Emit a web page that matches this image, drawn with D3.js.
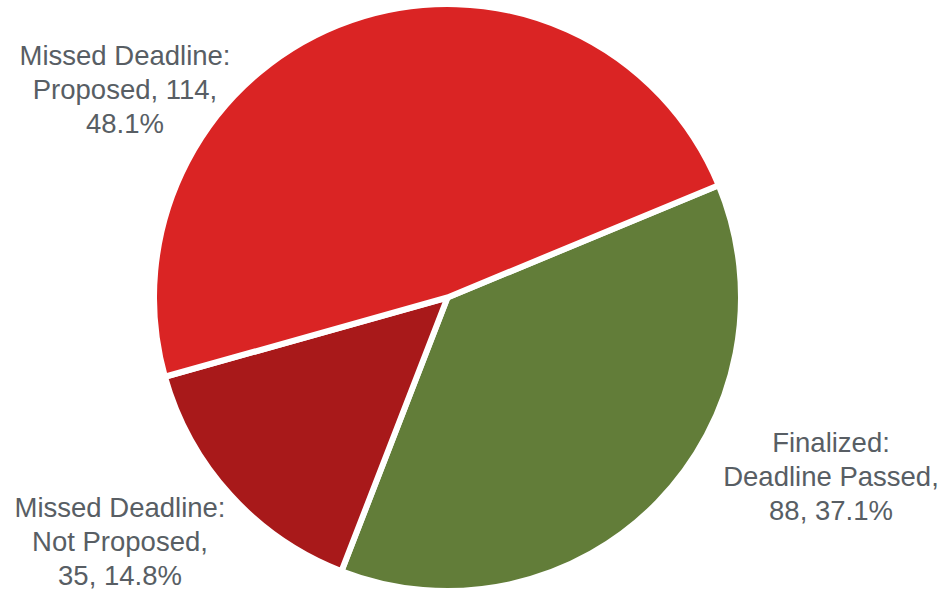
<!DOCTYPE html>
<html>
<head>
<meta charset="utf-8">
<script src="https://cdn.jsdelivr.net/npm/d3@7"></script>
<style>
  html, body { margin: 0; padding: 0; background: #ffffff; }
  svg { display: block; }
</style>
</head>
<body>
<svg id="chart" width="943" height="590"></svg>
<script>
// Rule status counts, drawn clockwise starting with the finalized slice
const categories = ["Finalized: Deadline Passed", "Missed Deadline: Not Proposed", "Missed Deadline: Proposed"];
const labelLines = [
  ["Finalized:", "Deadline Passed,"],
  ["Missed Deadline:", "Not Proposed,"],
  ["Missed Deadline:", "Proposed, 114,"]
];
const counts = [88, 35, 114];
const percents = ["37.1%", "14.8%", "48.1%"];
const colors = ["#627d39", "#a8191a", "#da2424"];

// Label anchor points (centre of first baseline), in page pixels
const labelAnchors = [[831, 452], [120, 517], [125, 65]];

const width = 943, height = 590;
const cx = 447.5, cy = 297.5, radius = 293.5;
const startDeg = 67.5;

const svg = d3.select("#chart");
const g = svg.append("g").attr("transform", `translate(${cx},${cy})`);

const pie = d3.pie()
  .value(d => d)
  .sort(null)
  .startAngle(startDeg * Math.PI / 180)
  .endAngle((startDeg + 360) * Math.PI / 180);

const arc = d3.arc().innerRadius(0).outerRadius(radius);

g.selectAll("path.slice")
  .data(pie(counts))
  .join("path")
  .attr("class", "slice")
  .attr("d", arc)
  .attr("fill", (d, i) => colors[i])
  .attr("stroke", "#ffffff")
  .attr("stroke-width", 6)
  .attr("stroke-linejoin", "miter");

// Data labels: category name, count and share
const lineHeight = 34;
const labels = svg.selectAll("text.label")
  .data(categories.map((c, i) => {
    const lines = labelLines[i].slice();
    if (i === 2) lines.push(percents[i]);
    else lines.push(`${counts[i]}, ${percents[i]}`);
    return { lines, pos: labelAnchors[i] };
  }))
  .join("text")
  .attr("class", "label")
  .attr("text-anchor", "middle")
  .attr("font-family", "'Liberation Sans', Arial, sans-serif")
  .attr("font-size", 27.5)
  .attr("fill", "#585e64");

labels.selectAll("tspan")
  .data(d => d.lines.map(l => ({ l, x: d.pos[0], y: d.pos[1] })))
  .join("tspan")
  .attr("x", d => d.x)
  .attr("y", (d, j) => d.y + j * lineHeight)
  .text(d => d.l);
</script>
</body>
</html>
